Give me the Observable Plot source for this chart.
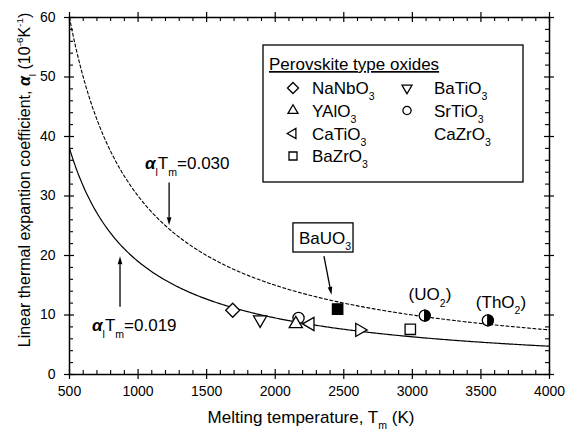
<!DOCTYPE html>
<html><head><meta charset="utf-8">
<script src="https://cdn.jsdelivr.net/npm/d3@7"></script>
<script src="https://cdn.jsdelivr.net/npm/@observablehq/plot@0.6"></script>
<style>body{margin:0;background:#fff;} #chart{width:569px;height:430px;}</style>
</head><body><div id="chart"></div>
<script>
// ---- data ----
const compounds = ["NaNbO3","BaTiO3","SrTiO3","YAlO3","CaTiO3","BaUO3","CaZrO3","BaZrO3","UO2","ThO2"];
const meltingT  = [1690, 1890, 2170, 2150, 2255, 2455, 2615, 2985, 3090, 3550];
const alphaL    = [10.8, 9.2, 9.5, 8.5, 8.5, 11.0, 7.5, 7.6, 9.9, 9.1];
const shapes    = ["diamond","down","circle","up","left","filledSquare","right","square","half","half"];
const lineConstants = [0.019, 0.030];   // alpha_l * T_m
const xTicks = [500,1000,1500,2000,2500,3000,3500,4000];
const yTicks = [0,10,20,30,40,50,60];
const xMinor = d3.range(500, 4001, 100).filter(v => v % 500 !== 0);
const yMinor = d3.range(0, 61, 2).filter(v => v % 10 !== 0);
const curveT = d3.range(500, 4001, 10);

const FONT = "Liberation Sans, Arial, Helvetica, sans-serif";
const W = 569, H = 430, mL = 69, mR = 20, mT = 17, mB = 56;
const pw = W - mL - mR, ph = H - mT - mB;

const points = compounds.map((c, i) => ({name: c, T: meltingT[i], a: alphaL[i], shape: shapes[i]}));
const curves = lineConstants.map(c => curveT.map(T => ({T, a: c / T * 1e6})));

function drawShape(ctx, shape, R) {
  const tri = (deg) => {
    for (let i = 0; i < 3; i++) {
      const a = (deg + i * 120) * Math.PI / 180;
      const x = R * Math.cos(a), y = R * Math.sin(a);
      i ? ctx.lineTo(x, y) : ctx.moveTo(x, y);
    }
    ctx.closePath();
  };
  switch (shape) {
    case "diamond": ctx.moveTo(0, -R); ctx.lineTo(R, 0); ctx.lineTo(0, R); ctx.lineTo(-R, 0); ctx.closePath(); break;
    case "up": tri(-90); break;
    case "down": tri(90); break;
    case "left": tri(180); break;
    case "right": tri(0); break;
    case "square": case "filledSquare": ctx.rect(-R, -R, 2 * R, 2 * R); break;
    case "half": ctx.moveTo(0, -R); ctx.arc(0, 0, R, -Math.PI / 2, Math.PI / 2); ctx.closePath(); break;
    case "circle": ctx.moveTo(R, 0); ctx.arc(0, 0, R, 0, 2 * Math.PI); ctx.closePath(); break;
  }
}
const sym = (shape) => ({draw(ctx, size) { drawShape(ctx, shape, Math.sqrt(size / Math.PI)); }});
const pick = (s) => points.filter(d => d.shape === s);
const dotOpts = {x: "T", y: "a", stroke: "black", strokeWidth: 1.3, fill: "white"};

const plot = Plot.plot({
  width: W, height: H,
  marginLeft: mL, marginRight: mR, marginTop: mT, marginBottom: mB,
  style: {fontFamily: FONT, color: "black", background: "white", overflow: "visible"},
  x: {domain: [500, 4000]},
  y: {domain: [0, 60]},
  marks: [
    Plot.line(curves[0], {x: "T", y: "a", stroke: "black", strokeWidth: 1.2, clip: true}),
    Plot.line(curves[1], {x: "T", y: "a", stroke: "black", strokeWidth: 1.1, strokeDasharray: "3,2.4", clip: true}),
    // ticks
    Plot.tickX(xTicks, {insetTop: ph - 5, insetBottom: -5, stroke: "black", strokeWidth: 1.2}),
    Plot.tickX(xTicks, {insetBottom: ph - 5, insetTop: -5, stroke: "black", strokeWidth: 1.2}),
    Plot.tickX(xMinor, {insetTop: ph - 4, stroke: "black", strokeWidth: 1.1}),
    Plot.tickX(xMinor, {insetBottom: ph - 4, stroke: "black", strokeWidth: 1.1}),
    Plot.tickY(yTicks, {insetRight: pw - 5, insetLeft: -5, stroke: "black", strokeWidth: 1.2}),
    Plot.tickY(yTicks, {insetLeft: pw - 5, insetRight: -5, stroke: "black", strokeWidth: 1.2}),
    Plot.tickY(yMinor, {insetRight: pw - 4, stroke: "black", strokeWidth: 1.1}),
    Plot.tickY(yMinor, {insetLeft: pw - 4, stroke: "black", strokeWidth: 1.1}),
    Plot.frame({stroke: "black", strokeWidth: 1.5}),
    Plot.axisX({ticks: xTicks, tickSize: 0, tickPadding: 12, fontSize: 14, label: null, tickFormat: d => String(d)}),
    Plot.axisY({ticks: yTicks, tickSize: 0, tickPadding: 14, fontSize: 14, label: null}),
    // points
    Plot.dot(pick("circle"), {...dotOpts, symbol: "circle", r: 5.6}),
    Plot.dot(pick("diamond"), {...dotOpts, symbol: sym("diamond"), r: 7}),
    Plot.dot(pick("down"), {...dotOpts, symbol: sym("down"), r: 7.6}),
    Plot.dot(pick("up"), {...dotOpts, symbol: sym("up"), r: 7.6}),
    Plot.dot(pick("left"), {...dotOpts, symbol: sym("left"), r: 7.6}),
    Plot.dot(pick("right"), {...dotOpts, symbol: sym("right"), r: 7.6}),
    Plot.dot(pick("square"), {...dotOpts, symbol: sym("square"), r: 5.2}),
    Plot.dot(pick("filledSquare"), {...dotOpts, fill: "black", symbol: sym("filledSquare"), r: 5.2}),
    Plot.dot(pick("half"), {...dotOpts, symbol: "circle", r: 5.5}),
    Plot.dot(pick("half"), {...dotOpts, fill: "black", symbol: sym("half"), r: 5.5})
  ]
});
document.getElementById("chart").append(plot);

// ---- annotations ----
const svg = d3.select(plot);
const sx = plot.scale("x"), sy = plot.scale("y");
const X = v => sx.apply(v), Y = v => sy.apply(v);
const g = svg.append("g").attr("font-family", FONT).attr("fill", "black").attr("text-anchor", "start");

function rich(parent, x, y, parts, size, anchor = "start") {
  const t = parent.append("text").attr("x", x).attr("y", y).attr("font-size", size)
    .attr("text-anchor", anchor).attr("fill", "black");
  let cur = 0;
  for (const p of parts) {
    const shift = p.sub ? size * 0.38 : p.sup ? -size * 0.42 : 0;
    const ts = t.append("tspan").text(p.t).attr("dy", shift - cur);
    cur = shift;
    if (p.sub || p.sup) ts.attr("font-size", size * 0.62);
    if (p.italic) ts.attr("font-style", "italic");
    if (p.bold) ts.attr("font-weight", "bold");
  }
  return t;
}
function arrow(x1, y1, x2, y2) {
  const ang = Math.atan2(y2 - y1, x2 - x1), L = 8, Wd = 2.3;
  const bx = x2 - L * Math.cos(ang), by = y2 - L * Math.sin(ang);
  g.append("line").attr("x1", x1).attr("y1", y1).attr("x2", bx).attr("y2", by)
    .attr("stroke", "black").attr("stroke-width", 1.3);
  const px = -Math.sin(ang) * Wd, py = Math.cos(ang) * Wd;
  g.append("path").attr("d", `M${x2},${y2}L${bx + px},${by + py}L${bx - px},${by - py}Z`).attr("fill", "black");
}
const sub = t => ({t, sub: true});
const sup = t => ({t, sup: true});
const alphaTm = c => [{t: "α", italic: true, bold: true}, sub("l"), {t: "T"}, sub("m"), {t: "=" + c}];

// curve labels + arrows
rich(g, X(1054), Y(34.4), alphaTm("0.030"), 17);
arrow(X(1230), Y(32.2), X(1230), Y(25.0));
rich(g, X(668), Y(7.2), alphaTm("0.019"), 17);
arrow(X(872), Y(11.3), X(872), Y(19.8));

// BaUO3 box
g.append("rect").attr("x", X(2133)).attr("y", Y(25.4)).attr("width", X(2571) - X(2133))
  .attr("height", Y(20.5) - Y(25.4)).attr("fill", "white").attr("stroke", "black").attr("stroke-width", 1.3);
rich(g, X(2177), Y(21.9), [{t: "BaUO"}, sub("3")], 17);
arrow(X(2359), Y(19.8), X(2414), Y(13.3));

// oxide labels
rich(g, X(3132), Y(12.4), [{t: "(UO"}, sub("2"), {t: ")"}], 17, "middle");
rich(g, X(3650), Y(11.1), [{t: "(ThO"}, sub("2"), {t: ")"}], 17, "middle");

// axis titles
rich(g, 311, 423, [{t: "Melting temperature, T"}, sub("m"), {t: " (K)"}], 17, "middle");
rich(g, 0, 0, [{t: "Linear thermal expantion coefficient, "}, {t: "α", italic: true, bold: true}, sub("l"),
  {t: " (10"}, sup("-6"), {t: "K"}, sup("-1"), {t: ")"}], 16, "middle")
  .attr("transform", "translate(30,180) rotate(-90)");

// legend
const lg = g.append("g");
lg.append("rect").attr("x", 263).attr("y", 45).attr("width", 260).attr("height", 137)
  .attr("fill", "white").attr("stroke", "black").attr("stroke-width", 1.3);
lg.append("text").attr("x", 269).attr("y", 70).attr("font-size", 17).attr("text-anchor", "start")
  .attr("text-decoration", "underline").style("text-decoration", "underline").text("Perovskite type oxides");
const legendItems = [
  {shape: "diamond", R: 5.5, name: "NaNbO", col: 0, row: 0},
  {shape: "down", R: 5.8, name: "BaTiO", col: 1, row: 0},
  {shape: "up", R: 5.8, name: "YAlO", col: 0, row: 1},
  {shape: "circle", R: 4.1, name: "SrTiO", col: 1, row: 1},
  {shape: "left", R: 5.8, name: "CaTiO", col: 0, row: 2},
  {shape: null, R: 0, name: "CaZrO", col: 1, row: 2},
  {shape: "square", R: 4, name: "BaZrO", col: 0, row: 3}
];
const rowY = [88, 110.5, 133.5, 156];
const colMark = [293, 407], colText = [312, 434];
for (const it of legendItems) {
  const cy = rowY[it.row];
  if (it.shape) {
    const p = d3.path(); drawShape(p, it.shape, it.R);
    lg.append("path").attr("d", p.toString()).attr("transform", `translate(${colMark[it.col]},${cy})`)
      .attr("fill", "white").attr("stroke", "black").attr("stroke-width", 1.3);
  }
  rich(lg, colText[it.col], cy + 6, [{t: it.name}, sub("3")], 17);
}
</script>
</body></html>
